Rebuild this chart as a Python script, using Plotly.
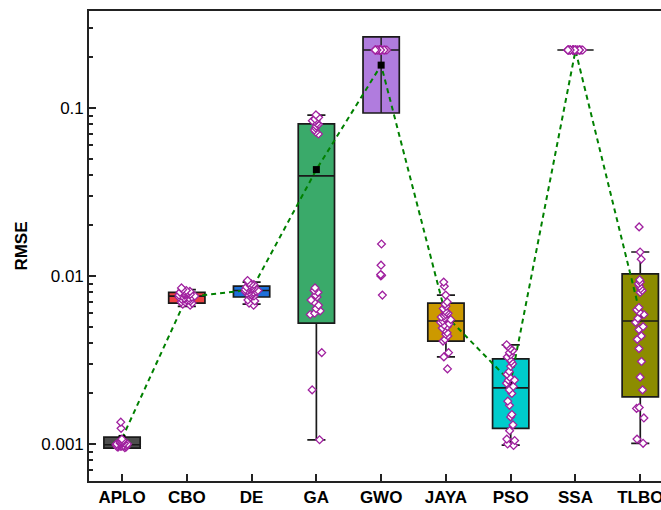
import plotly.graph_objects as go

# ---------------- data ----------------
categories = ['APLO', 'CBO', 'DE', 'GA', 'GWO', 'JAYA', 'PSO', 'SSA', 'TLBO']

q1 = [0.000946, 0.0069, 0.0075, 0.00525, 0.0934, 0.0041, 0.00124, 0.2215, 0.00191]
median = [0.00099, 0.0076, 0.0082, 0.0394, 0.2215, 0.0054, 0.00216, 0.2215, 0.0054]
q3 = [0.00110, 0.0080, 0.0087, 0.0804, 0.265, 0.0069, 0.00321, 0.2215, 0.0103]
lowerfence = [0.000946, 0.0066, 0.0068, 0.00106, 0.0934, 0.0033, 0.000986, 0.2215, 0.00101]
upperfence = [0.00110, 0.0083, 0.0092, 0.0908, 0.265, 0.0077, 0.00389, 0.2215, 0.0139]
means = [0.00108, 0.0075, 0.0083, 0.0430, 0.180, 0.0058, 0.00234, 0.220, 0.0059]

aplo = [0.00096, 0.00098, 0.00100, 0.00101, 0.00097, 0.00099, 0.00102, 0.00095, 0.00103, 0.00098,
        0.00100, 0.00097, 0.00101, 0.00104, 0.00099, 0.00096, 0.00100, 0.00102, 0.00098, 0.00105,
        0.00097, 0.00099, 0.00101, 0.00100, 0.00103, 0.00096, 0.00098, 0.00124, 0.00135, 0.00107]
cbo = [0.0069, 0.0072, 0.0075, 0.0078, 0.0080, 0.0083, 0.0070, 0.0074, 0.0077, 0.0079,
       0.0081, 0.0068, 0.0073, 0.0076, 0.0078, 0.0071, 0.0075, 0.0080, 0.0082, 0.0067,
       0.0074, 0.0077, 0.0079, 0.0072, 0.0076, 0.0085, 0.0070, 0.0073, 0.0078, 0.0081]
de = [0.0075, 0.0078, 0.0081, 0.0083, 0.0086, 0.0088, 0.0091, 0.0094, 0.0080, 0.0084,
      0.0087, 0.0079, 0.0082, 0.0085, 0.0077, 0.0072, 0.0069, 0.0067, 0.0090, 0.0083,
      0.0081, 0.0086, 0.0076, 0.0089, 0.0084, 0.0078, 0.0082, 0.0071, 0.0085, 0.0080]
ga = [0.091, 0.088, 0.086, 0.084, 0.083, 0.081, 0.080, 0.078, 0.076, 0.074, 0.072, 0.070, 0.085,
      0.0085, 0.0082, 0.0080, 0.0077, 0.0075, 0.0072, 0.0070, 0.0067, 0.0064, 0.0062, 0.0060, 0.0059,
      0.0035, 0.0021, 0.00106]
gwo = [0.2215] * 24 + [0.0155, 0.0116, 0.0102, 0.0101, 0.0100, 0.0077]
jaya = [0.0092, 0.0087, 0.0077, 0.0070, 0.0068, 0.0066, 0.0064, 0.0062, 0.0061, 0.0059,
        0.0058, 0.0056, 0.0055, 0.0054, 0.0053, 0.0052, 0.0051, 0.0050, 0.0048, 0.0046,
        0.0044, 0.0042, 0.0041, 0.0045, 0.0057, 0.0035, 0.0033, 0.0028, 0.0060, 0.0049]
pso = [0.0039, 0.0037, 0.0036, 0.0034, 0.0033, 0.0032, 0.0030, 0.0029, 0.0027, 0.0026,
       0.0025, 0.0024, 0.0023, 0.0022, 0.0021, 0.0020, 0.0018, 0.0017, 0.0015, 0.00145,
       0.0013, 0.0012, 0.00107, 0.00105, 0.0010, 0.00098, 0.0035, 0.0031, 0.0038, 0.0024]
ssa = [0.2215] * 30
tlbo = [0.0196, 0.0139, 0.0126, 0.0095, 0.0092, 0.0090, 0.0087, 0.0084, 0.0082, 0.0080,
        0.0065, 0.0063, 0.0061, 0.0059, 0.0056, 0.0053, 0.0050, 0.0048, 0.0044, 0.0042,
        0.0037, 0.0031, 0.0025, 0.0021, 0.00165, 0.00163, 0.00143, 0.00107, 0.00101]
samples = [aplo, cbo, de, ga, gwo, jaya, pso, ssa, tlbo]

# ---------------- styles ----------------
box_colors = ['#4D4D4D', '#EE4242', '#1E70DA', '#3AAA6A', '#B07CDE',
              '#CC9900', '#00CCCC', '#9E9E9E', '#8C8C00']
jitters = [0.42, 0.5, 0.4, 0.4, 0.35, 0.3, 0.3, 0.45, 0.3]
FONT = 'Liberation Sans, Arial, sans-serif'
AX = '#222222'
XRANGE = [-0.51, 8.32]
YRANGE = [-3.220, -0.4226]

fig = go.Figure()

for i, c in enumerate(categories):
    fig.add_trace(go.Box(
        x=[c], q1=[q1[i]], median=[median[i]], q3=[q3[i]],
        lowerfence=[lowerfence[i]], upperfence=[upperfence[i]],
        fillcolor=box_colors[i], line=dict(color='#1a1a1a', width=1.7),
        whiskerwidth=0.5, boxpoints=False, name=c, hoverinfo='y'))

# whisker line visible through the GWO box
gi = categories.index('GWO')
fig.add_trace(go.Scatter(x=[categories[gi], categories[gi]], y=[q1[gi], q3[gi]],
                         mode='lines', line=dict(color='#222', width=1.5),
                         hoverinfo='skip'))

fig.add_trace(go.Scatter(
    x=categories, y=means, mode='lines+markers',
    line=dict(color='#008000', width=2, dash='5px,4px'),
    marker=dict(symbol='square', size=7, color='black'),
    name='Mean'))

# sample points on an overlaying (identical) axis pair so they sit on top
for i, c in enumerate(categories):
    fig.add_trace(go.Box(
        x=[c] * len(samples[i]), y=samples[i], boxpoints='all', jitter=jitters[i],
        pointpos=0, fillcolor='rgba(0,0,0,0)', line=dict(width=0, color='rgba(0,0,0,0)'),
        marker=dict(symbol='diamond', size=6, color='white',
                    line=dict(color='#A0209F', width=1.3)),
        name=c, hoveron='points', xaxis='x2', yaxis='y2'))

minor_vals = [m * 10 ** e for e in range(-4, 0) for m in range(2, 10)]

fig.update_layout(
    width=661, height=510,
    margin=dict(l=89, r=0, t=11, b=29),
    paper_bgcolor='white', plot_bgcolor='white',
    showlegend=False, boxmode='overlay', boxgap=0.2,
    font=dict(family=FONT, color='black'),
    xaxis=dict(type='category', categoryarray=categories, range=XRANGE, showline=True,
               linecolor=AX, linewidth=1.6, mirror=True, ticks='inside', ticklen=7,
               tickwidth=1.5, tickcolor=AX, showgrid=False, zeroline=False, automargin=False,
               tickfont=dict(family=FONT, size=17, color='black', weight='bold')),
    yaxis=dict(type='log', range=YRANGE, showline=True, linecolor=AX,
               linewidth=1.6, ticks='inside', ticklen=7, tickwidth=1.5, tickcolor=AX,
               tickvals=[0.001, 0.01, 0.1], ticktext=['0.001', '0.01', '0.1'],
               minor=dict(tickvals=minor_vals, ticks='inside', ticklen=4, tickwidth=1.5,
                          tickcolor=AX, showgrid=False),
               showgrid=False, zeroline=False, automargin=False,
               tickfont=dict(family=FONT, size=17, color='black'),
               title=dict(text='RMSE', standoff=9,
                          font=dict(family=FONT, size=17, color='black', weight='bold'))),
    xaxis2=dict(type='category', categoryarray=categories, range=XRANGE, overlaying='x',
                visible=False, showgrid=False, zeroline=False),
    yaxis2=dict(type='log', range=YRANGE, overlaying='y', visible=False,
                showgrid=False, zeroline=False),
)

fig.write_html('out.html')
